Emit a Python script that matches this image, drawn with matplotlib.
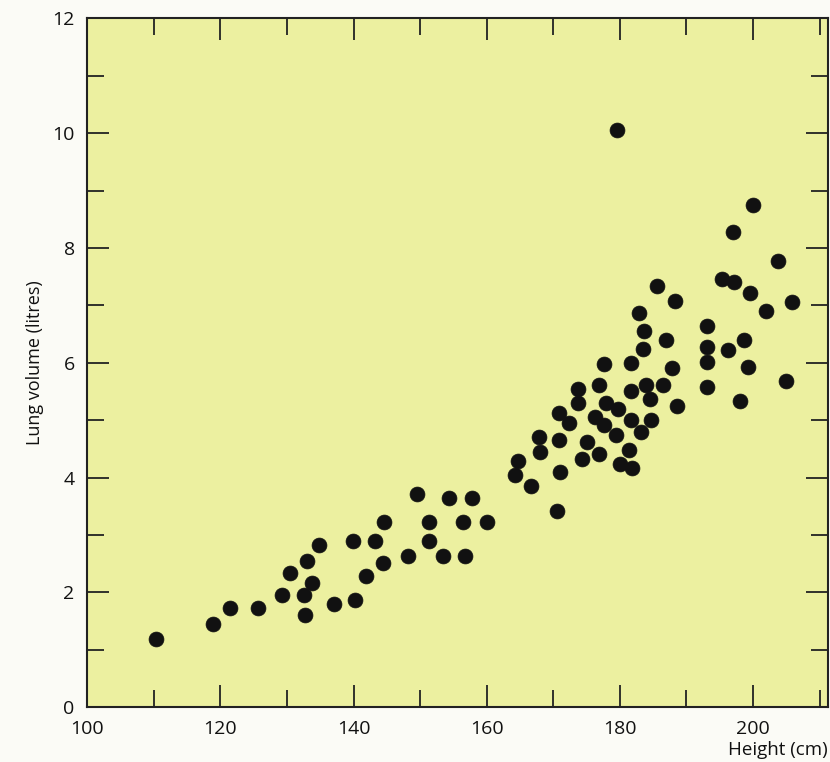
import matplotlib
matplotlib.use("Agg")
import matplotlib.pyplot as plt
from matplotlib.ticker import MultipleLocator

height_cm = [
    110.4, 118.9, 121.4, 125.7, 129.3, 130.5, 132.5, 132.7, 133.0, 133.8,
    134.8, 137.1, 139.9, 140.2, 141.9, 143.2, 144.5, 144.6, 148.2, 149.5,
    151.3, 151.3, 153.5, 154.4, 156.4, 156.8, 157.8, 160.1,
    173.7, 176.8, 181.7, 183.9, 186.4, 184.5, 188.5, 173.7, 177.9, 179.7,
    170.9, 172.4, 176.3, 177.6, 181.6, 184.6, 183.2, 179.4, 167.9, 170.9,
    175.0, 168.0, 176.8, 181.3, 164.7, 174.3, 180.0, 181.8, 164.2, 171.0,
    166.7, 170.6,
    179.6, 200.0, 197.0, 203.8, 195.3, 197.2, 185.6, 199.5, 188.2, 205.8,
    202.0, 182.8, 183.6, 193.1, 186.9, 198.6, 193.1, 183.5, 196.3, 193.1,
    177.6, 181.7, 187.8, 199.3, 204.9, 193.1, 198.0,
]
lung_volume_l = [
    1.19, 1.45, 1.73, 1.73, 1.96, 2.33, 1.95, 1.61, 2.54, 2.17,
    2.83, 1.80, 2.90, 1.86, 2.29, 2.90, 2.51, 3.22, 2.64, 3.72,
    2.90, 3.22, 2.64, 3.65, 3.22, 2.64, 3.65, 3.22,
    5.55, 5.61, 5.50, 5.61, 5.61, 5.37, 5.24, 5.29, 5.29, 5.19,
    5.13, 4.95, 5.05, 4.91, 5.01, 5.01, 4.79, 4.74, 4.71, 4.65,
    4.62, 4.45, 4.41, 4.48, 4.29, 4.33, 4.23, 4.16, 4.04, 4.10,
    3.86, 3.41,
    10.06, 8.74, 8.28, 7.78, 7.46, 7.40, 7.33, 7.21, 7.08, 7.06,
    6.90, 6.86, 6.56, 6.64, 6.39, 6.39, 6.28, 6.24, 6.22, 6.02,
    5.97, 6.00, 5.91, 5.92, 5.68, 5.58, 5.33,
]
x_ticks = [100, 120, 140, 160, 180, 200]
y_ticks = [0, 2, 4, 6, 8, 10, 12]

plt.rcParams['font.family'] = ['Open Sans', 'DejaVu Sans']

fig = plt.figure(figsize=(8.30, 7.62), dpi=100)
fig.patch.set_facecolor('#fbfbf6')
ax = fig.add_axes([0.105, 0.072, 0.893, 0.904])
ax.set_facecolor('#ecf0a0')

ax.scatter(height_cm, lung_volume_l, s=115, color='#111111', edgecolors='#111111',
           linewidths=0.5, zorder=3, clip_on=False)

ax.set_xlim(100, 211.3)
ax.set_ylim(0, 12)
ax.set_xticks(x_ticks)
ax.set_yticks(y_ticks)
ax.xaxis.set_minor_locator(MultipleLocator(10))
ax.yaxis.set_minor_locator(MultipleLocator(1))

ax.tick_params(which='both', direction='in', top=True, right=True,
               color='#222222', width=1.3, labelsize=14, labelcolor='#111111')
ax.tick_params(which='major', length=16, pad=9)
ax.tick_params(which='minor', length=12)

for sp in ax.spines.values():
    sp.set_linewidth(1.5)
    sp.set_color('#222222')

ax.set_ylabel('Lung volume (litres)', fontsize=13, labelpad=6, color='#111111')
fig.text(0.997, 0.004, 'Height (cm)', ha='right', va='bottom', fontsize=13.5, color='#111111')

fig.savefig('out.png', dpi=100, facecolor=fig.get_facecolor())
